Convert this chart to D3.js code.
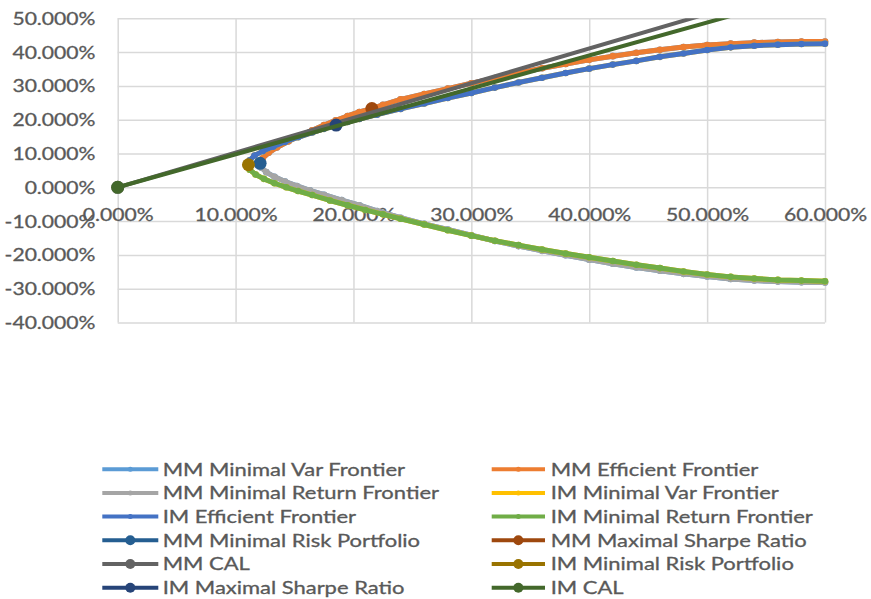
<!DOCTYPE html>
<html>
<head>
<meta charset="utf-8">
<script src="https://cdn.jsdelivr.net/npm/d3@7"></script>
<style>
  html, body { margin: 0; padding: 0; background: #ffffff; }
  svg { display: block; font-family: Lato, "Open Sans", sans-serif; }
  text { stroke: #595959; stroke-width: 0.3px; paint-order: stroke; }
</style>
</head>
<body>
<svg id="chart" width="871" height="599"></svg>
<script>
// Axis ticks (percent)
const xTicks = [0, 10, 20, 30, 40, 50, 60];
const yTicks = [-40, -30, -20, -10, 0, 10, 20, 30, 40, 50];

// Frontier series: [risk %, return %]
const mmEfficient = [
  [12.08, 7.08], [12.3, 8.6], [12.8, 10.2], [13.5, 11.8], [14.5, 13.6], [15.5, 15.3],
  [16.5, 16.9], [17.5, 18.4], [18.5, 19.8], [19.5, 21.1], [20.5, 22.3], [21.56, 23.3],
  [22.5, 24.4], [24, 26.0], [26, 27.6], [28, 29.2], [30, 30.8], [32, 32.3], [34, 33.8],
  [36, 35.2], [38, 36.5], [40, 37.7], [42, 38.8], [44, 39.8], [46, 40.7], [48, 41.5],
  [50, 42.1], [52, 42.5], [54, 42.8], [56, 43.0], [58, 43.1], [60, 43.1]
];
const mmMinReturn = [
  [12.08, 7.08], [12.2, 5.8], [12.6, 4.5], [13.3, 3.1], [14.2, 1.7], [15.2, 0.4],
  [16.3, -0.9], [17.5, -2.2], [19, -3.8], [20.5, -5.3], [22, -7.0], [24, -9.0],
  [26, -10.8], [28, -12.5], [30, -14.2], [32, -15.9], [34, -17.4], [36, -18.8],
  [38, -20.1], [40, -21.4], [42, -22.6], [44, -23.7], [46, -24.7], [48, -25.6],
  [50, -26.4], [52, -27.1], [54, -27.6], [56, -27.9], [58, -28.1], [60, -28.2]
];
const imEfficient = [
  [11.09, 6.67], [11.2, 8.0], [11.6, 9.4], [12.3, 10.7], [13.2, 12.0], [14.2, 13.4],
  [15.3, 14.8], [16.5, 16.2], [17.5, 17.3], [18.53, 18.4], [19.5, 19.3], [20.5, 20.2],
  [22, 21.5], [24, 23.2], [26, 24.8], [28, 26.4], [30, 27.9], [32, 29.5], [34, 31.0],
  [36, 32.4], [38, 33.8], [40, 35.1], [42, 36.3], [44, 37.4], [46, 38.6], [48, 39.6],
  [50, 40.6], [52, 41.4], [54, 41.9], [56, 42.2], [58, 42.4], [60, 42.5]
];
const imMinReturn = [
  [11.09, 6.67], [11.2, 5.2], [11.7, 3.8], [12.4, 2.5], [13.3, 1.2], [14.3, 0.0],
  [15.3, -1.1], [16.5, -2.3], [18, -3.9], [19.5, -5.3], [21, -6.7], [22.5, -8.0],
  [24, -9.3], [26, -11.0], [28, -12.7], [30, -14.3], [32, -15.8], [34, -17.1],
  [36, -18.4], [38, -19.6], [40, -20.7], [42, -21.8], [44, -22.9], [46, -23.9],
  [48, -24.9], [50, -25.8], [52, -26.5], [54, -27.0], [56, -27.4], [58, -27.6], [60, -27.8]
];
// Full minimum-variance frontiers: lower branch followed by upper branch
const mmMinVar = mmMinReturn.slice().reverse().concat(mmEfficient.slice(1));
const imMinVar = imMinReturn.slice().reverse().concat(imEfficient.slice(1));

// Portfolios and capital allocation lines
const mmMinRisk = [[12.08, 7.08]];
const mmMaxSharpe = [[21.56, 23.3]];
const mmCal = [[0, 0], [60, 61.6]];
const imMinRisk = [[11.09, 6.67]];
const imMaxSharpe = [[18.53, 18.4]];
const imCal = [[0, 0], [60, 58.5]];

const seriesNames = [
  "MM Minimal Var Frontier", "MM Efficient Frontier", "MM Minimal Return Frontier",
  "IM Minimal Var Frontier", "IM Efficient Frontier", "IM Minimal Return Frontier",
  "MM Minimal Risk Portfolio", "MM Maximal Sharpe Ratio", "MM CAL",
  "IM Minimal Risk Portfolio", "IM Maximal Sharpe Ratio", "IM CAL"
];
const seriesData = [
  mmMinVar, mmEfficient, mmMinReturn, imMinVar, imEfficient, imMinReturn,
  mmMinRisk, mmMaxSharpe, mmCal, imMinRisk, imMaxSharpe, imCal
];
const seriesColors = [
  "#5B9BD5", "#ED7D31", "#A5A5A5", "#FFC000", "#4472C4", "#70AD47",
  "#255E91", "#9E480E", "#636363", "#997300", "#264478", "#43682B"
];
// small marker for frontier curves, large marker for portfolios and CALs
const seriesMarker = ["s", "s", "s", "s", "s", "s", "l", "l", "l", "l", "l", "l"];

const plot = { left: 117.7, right: 825, top: 18.3, bottom: 322.5 };
const AXIS_STRETCH = 1.28;
const LEGEND_STRETCH = 1.255;
const TEXT_COLOR = "#595959";
const GRID_COLOR = "#d9d9d9";

const x = d3.scaleLinear().domain([0, 60]).range([plot.left, plot.right]);
const y = d3.scaleLinear().domain([-40, 50]).range([plot.bottom, plot.top]);

const locale = d3.formatLocale({ decimal: ".", thousands: ",", grouping: [3], currency: ["$", ""], minus: "-" });
const fmt3 = locale.format(".3f");
const pct = v => fmt3(v) + "%";

const svg = d3.select("#chart");
svg.append("rect").attr("width", 871).attr("height", 599).attr("fill", "#ffffff");

svg.append("defs").append("clipPath").attr("id", "plot-clip")
  .append("rect")
  .attr("x", plot.left).attr("y", plot.top)
  .attr("width", plot.right - plot.left).attr("height", plot.bottom - plot.top);

// Gridlines
svg.append("g")
  .attr("transform", `translate(0,${plot.bottom})`)
  .call(d3.axisBottom(x).tickValues(xTicks).tickSize(-(plot.bottom - plot.top)).tickFormat(""))
  .call(g => g.select(".domain").remove())
  .call(g => g.selectAll("line").attr("stroke", GRID_COLOR).attr("stroke-width", 1.5));
svg.append("g")
  .attr("transform", `translate(${plot.left},0)`)
  .call(d3.axisLeft(y).tickValues(yTicks).tickSize(-(plot.right - plot.left)).tickFormat(""))
  .call(g => g.select(".domain").remove())
  .call(g => g.selectAll("line").attr("stroke", GRID_COLOR).attr("stroke-width", 1.5));

// Y tick labels
svg.append("g")
  .attr("transform", `translate(${plot.left},0)`)
  .call(d3.axisLeft(y).tickValues(yTicks).tickSize(0).tickFormat(pct))
  .call(g => g.select(".domain").remove())
  .call(g => g.selectAll("text")
    .attr("x", 0).attr("dy", "0.36em")
    .attr("text-anchor", "end")
    .attr("transform", `translate(${95.5 - plot.left},0) scale(${AXIS_STRETCH},1)`)
    .attr("fill", TEXT_COLOR)
    .style("font-size", "16.5px")
    .style("font-family", "Lato, 'Open Sans', sans-serif"));

// X tick labels sit beside the zero line
svg.append("g")
  .attr("transform", `translate(0,${y(0)})`)
  .call(d3.axisBottom(x).tickValues(xTicks).tickSize(0).tickFormat(pct))
  .call(g => g.select(".domain").remove())
  .call(g => g.selectAll("text")
    .attr("y", 0).attr("dy", "0.36em")
    .attr("text-anchor", "middle")
    .attr("transform", `translate(0,28.2) scale(${AXIS_STRETCH},1)`)
    .attr("fill", TEXT_COLOR)
    .style("font-size", "16.5px")
    .style("font-family", "Lato, 'Open Sans', sans-serif"));

// Series
const line = d3.line().x(d => x(d[0])).y(d => y(d[1]));
const inDomain = d => d[0] >= 0 && d[0] <= 60 && d[1] >= -40 && d[1] <= 50;

seriesData.forEach((data, i) => {
  const small = seriesMarker[i] === "s";
  const g = svg.append("g").attr("class", "series");
  if (data.length > 1) {
    g.append("path")
      .attr("clip-path", "url(#plot-clip)")
      .attr("d", line(data))
      .attr("fill", "none")
      .attr("stroke", seriesColors[i])
      .attr("stroke-width", small ? 5 : 4)
      .attr("stroke-linejoin", "round")
      .attr("stroke-linecap", "round");
  }
  g.selectAll("circle")
    .data(data.filter(inDomain))
    .join("circle")
    .attr("cx", d => x(d[0]))
    .attr("cy", d => y(d[1]))
    .attr("r", small ? 3.3 : 6.5)
    .attr("fill", seriesColors[i]);
});

// Legend: two columns, filled row by row
const legend = svg.append("g").attr("class", "legend");
const colLine = [[102.3, 158.3], [491.7, 545]];
const colText = [162.7, 550.7];
seriesNames.forEach((name, i) => {
  const col = i % 2, row = Math.floor(i / 2);
  const ly = 469.2 + row * 23.7;
  const item = legend.append("g");
  item.append("line")
    .attr("x1", colLine[col][0]).attr("x2", colLine[col][1])
    .attr("y1", ly).attr("y2", ly)
    .attr("stroke", seriesColors[i]).attr("stroke-width", 4);
  item.append("circle")
    .attr("cx", (colLine[col][0] + colLine[col][1]) / 2).attr("cy", ly)
    .attr("r", seriesMarker[i] === "s" ? 2.5 : 5)
    .attr("fill", seriesColors[i]);
  item.append("text")
    .attr("x", 0).attr("y", 0).attr("dy", "0.36em")
    .attr("transform", `translate(${colText[col]},${ly}) scale(${LEGEND_STRETCH},1)`)
    .attr("fill", TEXT_COLOR)
    .style("font-size", "17.5px")
    .text(name);
});
</script>
</body>
</html>
